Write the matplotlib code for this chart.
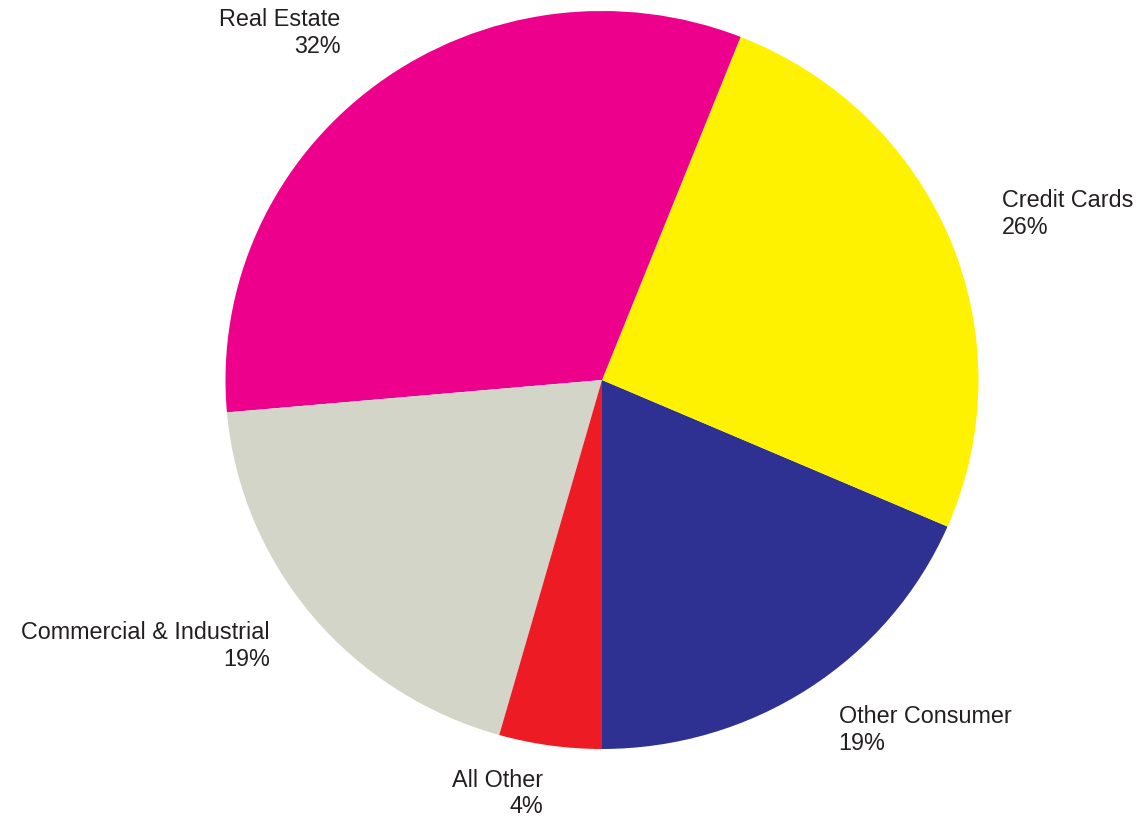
import matplotlib
matplotlib.use("Agg")
import matplotlib.pyplot as plt
import numpy as np

# slice data, counterclockwise from the bottom of the pie
categories = ["Other Consumer", "Credit Cards", "Real Estate", "Commercial & Industrial", "All Other"]
shares = [18.5, 25.5, 32.4, 19.2, 4.4]
pct_labels = ["19%", "26%", "32%", "19%", "4%"]
colors = ["#2E3192", "#FFF200", "#EC008C", "#D2D5C7", "#ED1C24"]

# how far out each label sits (fraction of radius)
label_dist = [1.145, 1.15, 1.162, 1.145, 1.14]

plt.rcParams['font.family'] = ['Liberation Sans', 'DejaVu Sans']

fig = plt.figure(figsize=(11.43, 8.19), dpi=100)
ax = fig.add_axes([0, 0, 1, 1])

labels = [c + "\n" + p for c, p in zip(categories, pct_labels)]
wedges, texts = ax.pie(shares, labels=labels, colors=colors, startangle=-90,
                       counterclock=True, labeldistance=1.145,
                       wedgeprops=dict(linewidth=0),
                       textprops=dict(fontsize=16.8, color="#231F20"))

# move each label along its wedge's middle angle
for w, t, d in zip(wedges, texts, label_dist):
    mid = np.deg2rad((w.theta1 + w.theta2) / 2)
    t.set_position((d * np.cos(mid), d * np.sin(mid) + 0.009))

# the original is slightly wider than tall
ax.set_aspect('auto')
ax.set_xlim(-602 / 376.5, 541 / 376.5)
ax.set_ylim(-439 / 369.0, 380 / 369.0)
ax.axis('off')

plt.savefig("out.png", dpi=100)
plt.close()
